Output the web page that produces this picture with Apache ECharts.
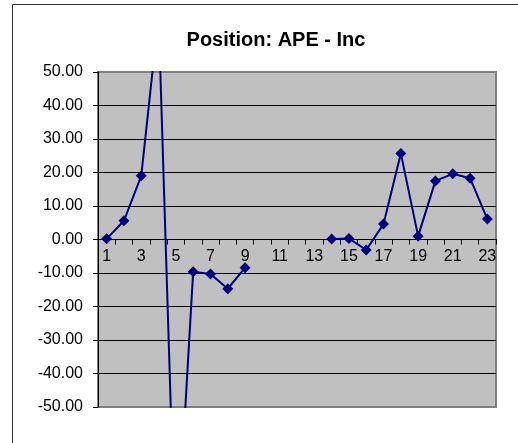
<!DOCTYPE html>
<html>
<head>
<meta charset="utf-8">
<script src="https://cdn.jsdelivr.net/npm/echarts@6/dist/echarts.min.js"></script>
<style>
html,body{margin:0;padding:0;background:#fff;}
#chart{width:518px;height:443px;}
</style>
</head>
<body>
<div id="chart"></div>
<script>
const categories = ['1','2','3','4','5','6','7','8','9','10','11','12','13','14','15','16','17','18','19','20','21','22','23'];
const values = [0.2, 5.6, 19.0, 67, -99, -9.6, -10.3, -14.7, -8.4, null, null, null, null, 0.15, 0.3, -3.1, 4.6, 25.7, 1.0, 17.5, 19.6, 18.3, 6.1];
const yTicks = [-50, -40, -30, -20, -10, 0, 10, 20, 30, 40, 50];
const titleText = 'Position: APE - Inc';

const gridTop = 72, gridBottom = 36, H = 443;
const plotH = H - gridTop - gridBottom;
const yMin = yTicks[0], yMax = yTicks[yTicks.length - 1];
// distance from grid bottom edge up to the zero line
const zeroOffset = -plotH * (0 - yMin) / (yMax - yMin);

const chart = echarts.init(document.getElementById('chart'), null, {renderer: 'canvas'});
chart.setOption({
  backgroundColor: '#ffffff',
  animation: false,
  textStyle: {fontFamily: 'Liberation Sans, Arial, sans-serif'},
  title: {
    text: titleText,
    left: 271,
    textAlign: 'center',
    top: 25,
    textStyle: {fontFamily: 'Liberation Sans, Arial, sans-serif', fontSize: 20, fontWeight: 'bold', color: '#000'}
  },
  graphic: [{
    type: 'rect',
    shape: {x: 12.5, y: 4.5, width: 530, height: 460},
    style: {fill: null, stroke: '#333', lineWidth: 1},
    silent: true,
    z: -1
  }],
  grid: {
    left: 98, right: 22, top: gridTop, bottom: gridBottom,
    show: true,
    backgroundColor: '#C0C0C0',
    borderColor: '#808080',
    borderWidth: 2
  },
  xAxis: {
    type: 'category',
    data: categories,
    boundaryGap: true,
    position: 'bottom',
    offset: zeroOffset,
    axisLine: {onZero: false, lineStyle: {color: '#000', width: 1}},
    axisTick: {show: true, interval: 0, length: 5, lineStyle: {color: '#000'}},
    axisLabel: {interval: 1, fontSize: 16, color: '#000', margin: 9, fontFamily: 'Liberation Sans, Arial, sans-serif'},
    splitLine: {show: false}
  },
  yAxis: {
    type: 'value',
    min: yMin,
    max: yMax,
    interval: 10,
    axisLine: {show: true, lineStyle: {color: '#000', width: 1}},
    axisTick: {show: true, length: 5, lineStyle: {color: '#000'}},
    axisLabel: {fontSize: 16, color: '#000', margin: 15, formatter: v => v.toFixed(2), fontFamily: 'Liberation Sans, Arial, sans-serif'},
    splitLine: {show: true, showMinLine: false, showMaxLine: false, lineStyle: {color: '#000', width: 1}}
  },
  series: [{
    type: 'line',
    data: values,
    connectNulls: false,
    clip: true,
    symbol: 'diamond',
    symbolSize: 11,
    showAllSymbol: true,
    lineStyle: {color: '#000080', width: 2},
    itemStyle: {color: '#000080'}
  }]
});
</script>
</body>
</html>
